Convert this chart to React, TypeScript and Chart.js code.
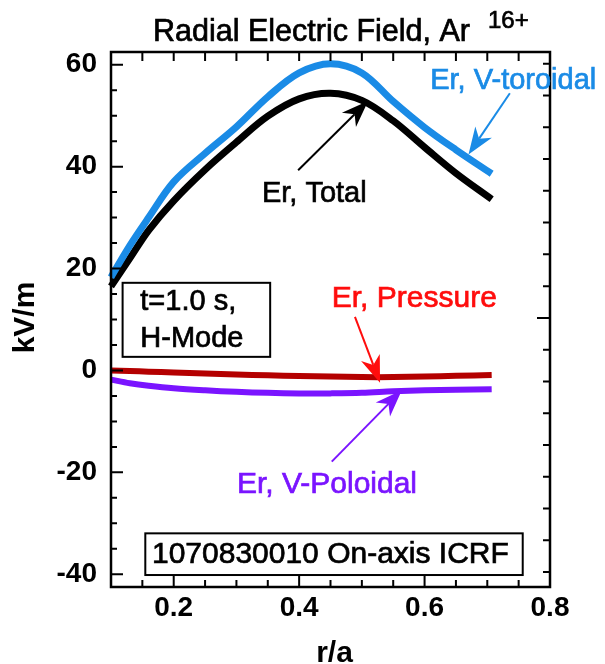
import { useEffect, useRef } from "react";
import { Chart, registerables } from "chart.js";

Chart.register(...registerables);

// r/a sample points
const RADIUS = [0.1, 0.13, 0.16, 0.2, 0.25, 0.3, 0.35, 0.4, 0.45, 0.5, 0.55, 0.6, 0.65, 0.707];
// Er components (kV/m)
const ER_TOROIDAL = [18.3, 24.5, 30.0, 37.0, 42.6, 47.8, 53.7, 58.4, 60.2, 58.4, 52.8, 47.7, 43.3, 38.6];
const ER_TOTAL = [16.5, 22.0, 27.5, 33.3, 39.4, 44.8, 49.9, 53.3, 54.4, 53.0, 49.0, 43.8, 38.7, 33.6];
const ER_PRESSURE = [0.0, -0.1, -0.25, -0.4, -0.6, -0.8, -0.95, -1.1, -1.2, -1.3, -1.3, -1.2, -1.05, -0.9];
const ER_POLOIDAL = [-1.8, -2.5, -3.0, -3.5, -3.9, -4.2, -4.4, -4.5, -4.5, -4.4, -4.1, -3.9, -3.8, -3.7];

const X_TICKS = [0.2, 0.4, 0.6, 0.8];
const Y_TICKS = [-40, -20, 0, 20, 40, 60];
const X_RANGE = [0.1, 0.8];
const Y_RANGE = [-42.5, 62.5];
const RIGHT_RANGE = [-8.47, 8.37];

const TITLE = "Radial Electric Field, Ar";
const TITLE_SUP = "16+";
const X_TITLE = "r/a";
const Y_TITLE = "kV/m";

const BLUE = "#1a8be6";
const RED_LINE = "#b40000";
const RED_TEXT = "#ff0d0d";
const PURPLE = "#7a14ff";

const FONT = '"Liberation Sans", Arial, Helvetica, sans-serif';

// labels with arrows, positioned in data coordinates
const NOTES = [
  { text: "Er, V-toroidal", size: 29, color: BLUE, at: [0.609, 55.2], from: [0.736, 54.4], to: [0.67, 42.4] },
  { text: "Er, Total", size: 29, color: "#000000", at: [0.3406, 33.1], from: [0.3984, 39.3], to: [0.51, 52.9] },
  { text: "Er, Pressure", size: 30, color: RED_TEXT, at: [0.452, 12.4], from: [0.489, 10.5], to: [0.529, -2.4] },
  { text: "Er, V-Poloidal", size: 30, color: PURPLE, at: [0.3008, -24.1], from: [0.452, -17.9], to: [0.5637, -3.9] },
];

// boxed captions: corners and text baselines in data coordinates
const BOXES = [
  { lines: ["t=1.0 s,", "H-Mode"], size: 29, x0: 0.1185, x1: 0.3538, y0: 17.2, y1: 2.67, textX: 0.1467, baselines: [11.83, 4.52] },
  { lines: ["1070830010 On-axis ICRF"], size: 30, x0: 0.1547, x1: 0.7565, y0: -31.97, y1: -40.15, textX: 0.1653, baselines: [-37.85] },
];

function heavyText(ctx: CanvasRenderingContext2D, s: string, x: number, y: number, color: string) {
  ctx.fillStyle = color;
  ctx.strokeStyle = color;
  ctx.lineWidth = 0.7;
  ctx.fillText(s, x, y);
  ctx.strokeText(s, x, y);
}

function drawArrow(ctx: CanvasRenderingContext2D, x0: number, y0: number, x1: number, y1: number, color: string) {
  const ang = Math.atan2(y1 - y0, x1 - x0);
  const len = 27;
  const half = 10;
  const notch = 19;
  ctx.save();
  ctx.strokeStyle = color;
  ctx.fillStyle = color;
  ctx.lineWidth = 2;
  ctx.beginPath();
  ctx.moveTo(x0, y0);
  ctx.lineTo(x1 - Math.cos(ang) * notch, y1 - Math.sin(ang) * notch);
  ctx.stroke();
  ctx.translate(x1, y1);
  ctx.rotate(ang);
  ctx.beginPath();
  ctx.moveTo(0, 0);
  ctx.lineTo(-len, -half);
  ctx.lineTo(-notch, 0);
  ctx.lineTo(-len, half);
  ctx.closePath();
  ctx.fill();
  ctx.restore();
}

const decorations = {
  id: "decorations",
  afterDatasetsDraw(chart: any) {
    const { ctx, chartArea: a, scales } = chart;
    const xs = scales.x;
    const ys = scales.y;
    const yr = scales.y2;
    const px = (v: number) => xs.getPixelForValue(v);
    const py = (v: number) => ys.getPixelForValue(v);

    ctx.save();
    ctx.textAlign = "left";
    ctx.textBaseline = "alphabetic";

    // frame
    ctx.strokeStyle = "#000";
    ctx.lineWidth = 2.5;
    ctx.strokeRect(a.left, a.top, a.right - a.left, a.bottom - a.top);

    // inward ticks
    ctx.lineWidth = 2;
    ctx.beginPath();
    for (let i = 1; i < 14; i++) {
      const v = X_RANGE[0] + i * 0.05;
      const x = px(v);
      const major = X_TICKS.some((t) => Math.abs(t - v) < 1e-6);
      ctx.moveTo(x, a.bottom);
      ctx.lineTo(x, a.bottom - (major ? 11 : 7));
      ctx.moveTo(x, a.top);
      ctx.lineTo(x, a.top + 9);
    }
    for (let v = -40; v <= 60; v += 5) {
      const y = py(v);
      const major = Y_TICKS.includes(v);
      ctx.moveTo(a.left, y);
      ctx.lineTo(a.left + (major ? 12 : 6), y);
    }
    for (let v = -8; v <= 8; v += 1) {
      const y = yr.getPixelForValue(v);
      ctx.moveTo(a.right, y);
      ctx.lineTo(a.right - (v === 0 ? 13 : 7), y);
    }
    ctx.stroke();

    // boxes
    for (const b of BOXES) {
      const l = px(b.x0), r = px(b.x1), t = py(b.y0), bt = py(b.y1);
      ctx.fillStyle = "#fff";
      ctx.fillRect(l, t, r - l, bt - t);
      ctx.strokeStyle = "#000";
      ctx.lineWidth = 2;
      ctx.strokeRect(l, t, r - l, bt - t);
      ctx.font = `${b.size}px ${FONT}`;
      b.lines.forEach((s, i) => heavyText(ctx, s, px(b.textX), py(b.baselines[i]), "#000"));
    }

    // notes and arrows
    for (const n of NOTES) {
      ctx.font = `${n.size}px ${FONT}`;
      heavyText(ctx, n.text, px(n.at[0]), py(n.at[1]), n.color);
      drawArrow(ctx, px(n.from[0]), py(n.from[1]), px(n.to[0]), py(n.to[1]), n.color);
    }
    ctx.restore();
  },
  afterDraw(chart: any) {
    const { ctx, chartArea: a } = chart;
    ctx.save();
    ctx.textBaseline = "alphabetic";
    ctx.textAlign = "left";
    ctx.font = `30.5px ${FONT}`;
    const tx = a.left + 42;
    heavyText(ctx, TITLE, tx, 41, "#000");
    const w = ctx.measureText(TITLE).width;
    ctx.font = `24px ${FONT}`;
    heavyText(ctx, TITLE_SUP, tx + w + 18, 28, "#000");

    ctx.fillStyle = "#000";
    ctx.font = `bold 30px ${FONT}`;
    ctx.textAlign = "center";
    ctx.fillText(X_TITLE, (a.left + a.right) / 2 + 4, 662);
    ctx.translate(34, (a.top + a.bottom) / 2 - 2);
    ctx.rotate(-Math.PI / 2);
    ctx.fillText(Y_TITLE, 0, 0);
    ctx.restore();
  },
};

export default function App() {
  const ref = useRef<HTMLCanvasElement | null>(null);

  useEffect(() => {
    if (!ref.current) return;
    const line = (label: string, data: number[], color: string, width: number) => ({
      label,
      data: RADIUS.map((r, i) => ({ x: r, y: data[i] })),
      borderColor: color,
      backgroundColor: color,
      borderWidth: width,
      pointRadius: 0,
      tension: 0.35,
      clip: false as const,
      borderCapStyle: "butt" as const,
    });

    const chart = new Chart(ref.current, {
      type: "line",
      data: {
        datasets: [
          line("Er, V-toroidal", ER_TOROIDAL, BLUE, 7),
          line("Er, Total", ER_TOTAL, "#000000", 7),
          line("Er, Pressure", ER_PRESSURE, RED_LINE, 6),
          line("Er, V-Poloidal", ER_POLOIDAL, PURPLE, 6),
        ],
      },
      options: {
        responsive: false,
        animation: false,
        layout: { padding: { top: 52, right: 55, left: 0, bottom: 0 } },
        plugins: { legend: { display: false }, tooltip: { enabled: false }, title: { display: false } },
        scales: {
          x: {
            type: "linear",
            min: X_RANGE[0],
            max: X_RANGE[1],
            grid: { display: false },
            border: { display: false },
            afterBuildTicks: (s: any) => {
              s.ticks = X_TICKS.map((value) => ({ value }));
            },
            afterFit: (s: any) => {
              s.height = 77;
            },
            ticks: {
              autoSkip: false,
              maxRotation: 0,
              padding: -4,
              color: "#000",
              font: { family: FONT, size: 28, weight: "bold" },
              callback: (v: any) => Number(v).toFixed(1),
            },
          },
          y: {
            type: "linear",
            min: Y_RANGE[0],
            max: Y_RANGE[1],
            grid: { display: false },
            border: { display: false },
            afterBuildTicks: (s: any) => {
              s.ticks = Y_TICKS.map((value) => ({ value }));
            },
            afterFit: (s: any) => {
              s.width = 111;
            },
            ticks: {
              padding: 6,
              color: "#000",
              font: { family: FONT, size: 28, weight: "bold" },
            },
          },
          y2: {
            type: "linear",
            position: "right",
            min: RIGHT_RANGE[0],
            max: RIGHT_RANGE[1],
            grid: { display: false },
            border: { display: false },
            ticks: { display: false },
            afterFit: (s: any) => {
              s.width = 0;
            },
          },
        },
      },
      plugins: [decorations],
    });
    return () => chart.destroy();
  }, []);

  return (
    <div style={{ position: "absolute", left: 0, top: 0, width: 605, height: 664, background: "#fff" }}>
      <canvas ref={ref} width={605} height={664} />
    </div>
  );
}
